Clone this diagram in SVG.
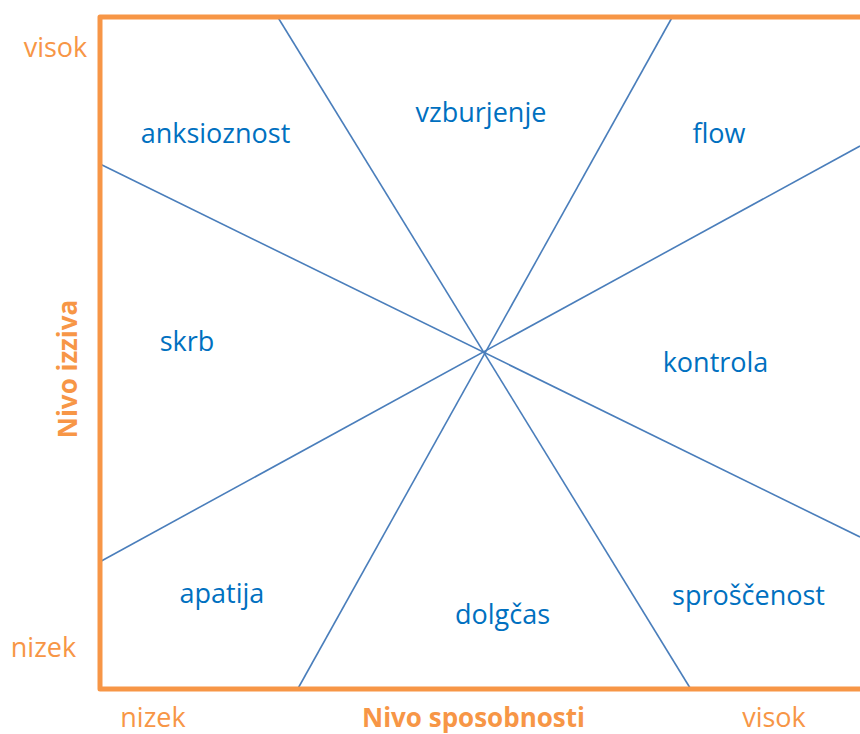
<svg xmlns="http://www.w3.org/2000/svg" width="860" height="734" viewBox="0 0 860 734">
  <style>
    .frame { fill: none; stroke: #F79646; stroke-width: 5; stroke-linejoin: round; }
    .div { stroke: #4A7EBB; stroke-width: 1.6; fill: none; }
    .zone { font-family: "Open Sans", "Liberation Sans", sans-serif; font-size: 27px; fill: #0070C0; text-anchor: middle; }
    .tick { font-family: "Open Sans", "Liberation Sans", sans-serif; font-size: 27px; fill: #F79646; text-anchor: middle; }
    .axis { font-family: "Open Sans", "Liberation Sans", sans-serif; font-size: 26px; font-weight: bold; fill: #F79646; text-anchor: middle; }
  </style>
  <rect width="860" height="734" fill="#ffffff"/>

  <!-- dividing lines through the centre point -->
  <g id="connectors">
    <line class="div" x1="277.7" y1="17" x2="690.7" y2="689"/>
    <line class="div" x1="672.3" y1="17" x2="297.7" y2="689"/>
    <line class="div" x1="100" y1="164" x2="860" y2="537"/>
    <line class="div" x1="100" y1="561.7" x2="860" y2="146"/>
  </g>

  <!-- axes frame -->
  <g id="frame">
    <path class="frame" d="M 864 17 L 100 17 L 100 689 L 864 689"/>
  </g>

  <!-- zone labels -->
  <g id="anksioznost"><text class="zone" x="215.5" y="143">anksioznost</text></g>
  <g id="vzburjenje"><text class="zone" x="481" y="121.5">vzburjenje</text></g>
  <g id="flow"><text class="zone" x="719" y="143">flow</text></g>
  <g id="skrb"><text class="zone" x="187" y="350.5">skrb</text></g>
  <g id="kontrola"><text class="zone" x="715.5" y="372">kontrola</text></g>
  <g id="apatija"><text class="zone" x="222" y="603">apatija</text></g>
  <g id="dolgcas"><text class="zone" x="502.5" y="624">dolgčas</text></g>
  <g id="sproscenost"><text class="zone" x="748.5" y="605">sproščenost</text></g>

  <!-- axis labels -->
  <g id="axis-y">
    <text class="tick" x="55.5" y="57">visok</text>
    <text class="tick" x="43.5" y="657">nizek</text>
    <text class="axis" transform="translate(77 369) rotate(-90)">Nivo izziva</text>
  </g>
  <g id="axis-x">
    <text class="tick" x="153" y="727">nizek</text>
    <text class="axis" x="473.5" y="726.5">Nivo sposobnosti</text>
    <text class="tick" x="774" y="726.5">visok</text>
  </g>
</svg>
